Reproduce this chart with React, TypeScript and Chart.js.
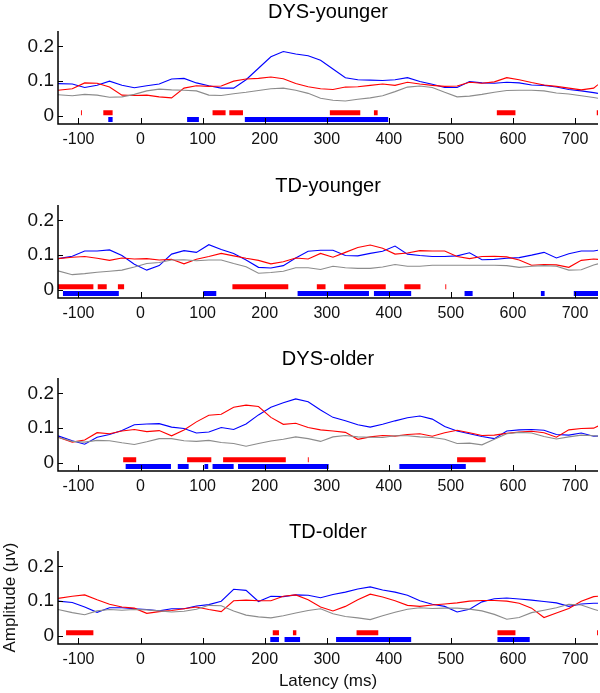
import React, { useEffect, useRef } from 'react';
import { Chart, registerables } from 'chart.js';

Chart.register(...registerables);

// ---------- data ----------
const latency = [-133, -110, -90, -70, -50, -30, -10, 10, 30, 50, 70, 90, 110, 130, 150, 170, 190, 210, 230, 250, 270, 290, 310, 330, 350, 370, 390, 410, 430, 450, 470, 490, 510, 530, 550, 570, 590, 610, 630, 650, 670, 690, 710, 730, 737];

const xTicks = [-100, 0, 100, 200, 300, 400, 500, 600, 700];
const yTicks = [0, 0.1, 0.2];
const yTickLabels = ['0', '0.1', '0.2'];

const panelTitles = ['DYS-younger', 'TD-younger', 'DYS-older', 'TD-older'];

// DYS-younger
const dysYoungerRed = [0.074, 0.078, 0.095, 0.094, 0.083, 0.060, 0.059, 0.060, 0.055, 0.052, 0.080, 0.087, 0.085, 0.086, 0.100, 0.106, 0.108, 0.112, 0.107, 0.093, 0.084, 0.078, 0.076, 0.083, 0.084, 0.088, 0.092, 0.088, 0.097, 0.092, 0.088, 0.085, 0.086, 0.097, 0.094, 0.098, 0.110, 0.104, 0.096, 0.089, 0.085, 0.080, 0.075, 0.080, 0.090];
const dysYoungerBlue = [0.093, 0.092, 0.082, 0.088, 0.100, 0.088, 0.081, 0.087, 0.092, 0.106, 0.108, 0.095, 0.087, 0.080, 0.080, 0.104, 0.137, 0.170, 0.185, 0.178, 0.173, 0.160, 0.135, 0.110, 0.104, 0.103, 0.102, 0.104, 0.110, 0.099, 0.091, 0.082, 0.082, 0.099, 0.095, 0.094, 0.097, 0.095, 0.089, 0.088, 0.083, 0.076, 0.072, 0.067, 0.065];
const dysYoungerGray = [0.061, 0.058, 0.062, 0.060, 0.054, 0.055, 0.062, 0.072, 0.077, 0.075, 0.074, 0.072, 0.060, 0.059, 0.064, 0.068, 0.073, 0.078, 0.080, 0.074, 0.065, 0.051, 0.045, 0.043, 0.048, 0.052, 0.058, 0.070, 0.083, 0.086, 0.082, 0.068, 0.055, 0.057, 0.062, 0.068, 0.073, 0.074, 0.074, 0.072, 0.066, 0.063, 0.058, 0.053, 0.051];
const dysYoungerRedSig = [[-96, -94.5], [-60, -45], [116, 137], [143, 165], [305, 354], [376, 382], [574, 604], [735, 737]];
const dysYoungerBlueSig = [[-52, -45], [75, 94], [168, 399]];

// TD-younger
const tdYoungerRed = [0.090, 0.094, 0.096, 0.091, 0.085, 0.092, 0.089, 0.090, 0.086, 0.088, 0.075, 0.088, 0.096, 0.105, 0.098, 0.091, 0.085, 0.075, 0.081, 0.092, 0.089, 0.105, 0.094, 0.108, 0.122, 0.129, 0.120, 0.103, 0.106, 0.113, 0.112, 0.112, 0.096, 0.090, 0.096, 0.097, 0.095, 0.086, 0.071, 0.073, 0.072, 0.065, 0.085, 0.089, 0.088];
const tdYoungerBlue = [0.090, 0.097, 0.112, 0.112, 0.115, 0.099, 0.074, 0.057, 0.070, 0.103, 0.113, 0.108, 0.130, 0.116, 0.105, 0.086, 0.065, 0.063, 0.070, 0.092, 0.111, 0.114, 0.114, 0.099, 0.098, 0.105, 0.111, 0.126, 0.103, 0.099, 0.096, 0.096, 0.098, 0.107, 0.087, 0.088, 0.091, 0.093, 0.100, 0.108, 0.092, 0.104, 0.112, 0.112, 0.114];
const tdYoungerGray = [0.055, 0.044, 0.047, 0.051, 0.054, 0.057, 0.066, 0.076, 0.079, 0.086, 0.087, 0.084, 0.086, 0.086, 0.076, 0.067, 0.048, 0.050, 0.054, 0.064, 0.064, 0.059, 0.068, 0.064, 0.062, 0.062, 0.066, 0.073, 0.068, 0.068, 0.071, 0.071, 0.071, 0.071, 0.071, 0.071, 0.070, 0.065, 0.068, 0.070, 0.068, 0.057, 0.058, 0.072, 0.075];
const tdYoungerRedSig = [[-133, -76], [-69, -54.5], [-36.5, -26.5], [148, 238], [284, 298], [328, 395], [425, 451], [491, 492.5]];
const tdYoungerBlueSig = [[-125, -35], [101, 122], [253, 368], [376, 436], [522, 535], [645, 651], [698, 737]];

// DYS-older
const dysOlderRed = [0.074, 0.060, 0.066, 0.087, 0.084, 0.092, 0.096, 0.090, 0.093, 0.078, 0.095, 0.118, 0.137, 0.140, 0.160, 0.166, 0.162, 0.131, 0.111, 0.114, 0.102, 0.095, 0.092, 0.088, 0.068, 0.075, 0.079, 0.077, 0.082, 0.084, 0.077, 0.087, 0.094, 0.087, 0.079, 0.080, 0.085, 0.089, 0.091, 0.087, 0.074, 0.095, 0.099, 0.100, 0.106];
const dysOlderBlue = [0.078, 0.064, 0.054, 0.074, 0.082, 0.093, 0.110, 0.112, 0.113, 0.103, 0.099, 0.086, 0.089, 0.102, 0.096, 0.112, 0.138, 0.160, 0.173, 0.184, 0.176, 0.152, 0.131, 0.121, 0.110, 0.103, 0.111, 0.121, 0.130, 0.135, 0.126, 0.105, 0.092, 0.084, 0.076, 0.070, 0.092, 0.095, 0.096, 0.094, 0.082, 0.080, 0.086, 0.077, 0.077];
const dysOlderGray = [0.074, 0.062, 0.060, 0.065, 0.064, 0.058, 0.053, 0.061, 0.070, 0.070, 0.064, 0.062, 0.065, 0.059, 0.056, 0.048, 0.056, 0.063, 0.068, 0.075, 0.070, 0.062, 0.075, 0.079, 0.075, 0.074, 0.073, 0.078, 0.078, 0.075, 0.073, 0.068, 0.056, 0.057, 0.052, 0.068, 0.084, 0.088, 0.086, 0.076, 0.069, 0.075, 0.080, 0.078, 0.077];
const dysOlderRedSig = [[-28, -7], [75, 114], [133, 234], [269.5, 271], [510, 556]];
const dysOlderBlueSig = [[-24, 49], [60, 77.5], [103, 109], [116, 150], [157, 303], [417, 524]];

// TD-older
const tdOlderRed = [0.108, 0.114, 0.118, 0.104, 0.091, 0.083, 0.080, 0.065, 0.070, 0.073, 0.078, 0.083, 0.076, 0.070, 0.101, 0.103, 0.101, 0.101, 0.114, 0.118, 0.104, 0.083, 0.072, 0.085, 0.104, 0.120, 0.112, 0.101, 0.088, 0.085, 0.089, 0.092, 0.095, 0.100, 0.102, 0.102, 0.100, 0.094, 0.080, 0.053, 0.066, 0.079, 0.100, 0.113, 0.114];
const tdOlderBlue = [0.100, 0.096, 0.083, 0.068, 0.081, 0.081, 0.078, 0.076, 0.072, 0.078, 0.078, 0.086, 0.090, 0.100, 0.134, 0.131, 0.099, 0.114, 0.113, 0.118, 0.117, 0.110, 0.119, 0.126, 0.135, 0.141, 0.132, 0.126, 0.117, 0.101, 0.091, 0.085, 0.069, 0.077, 0.098, 0.107, 0.109, 0.106, 0.103, 0.099, 0.095, 0.085, 0.092, 0.094, 0.094];
const tdOlderGray = [0.076, 0.067, 0.061, 0.072, 0.076, 0.074, 0.076, 0.075, 0.072, 0.069, 0.071, 0.077, 0.088, 0.087, 0.072, 0.060, 0.055, 0.052, 0.058, 0.066, 0.073, 0.078, 0.064, 0.056, 0.052, 0.047, 0.058, 0.068, 0.077, 0.081, 0.079, 0.080, 0.080, 0.077, 0.072, 0.062, 0.048, 0.053, 0.067, 0.074, 0.081, 0.091, 0.089, 0.077, 0.073];
const tdOlderRedSig = [[-120, -76], [213, 223], [245.5, 251], [348, 383], [575, 604], [735.5, 737]];
const tdOlderBlueSig = [[209, 223], [232, 257], [315, 436], [575, 627]];

const redLevel = 0.009;
const blueLevel = -0.01;

// ---------- layout ----------
const FONT = "'Liberation Sans', Arial, Helvetica, sans-serif";
const CANVAS_TOPS = [0, 174, 347, 520];
const CANVAS_HEIGHTS = [174, 173, 173, 173];
const AREA_TOP = 31;
const AREA_BOTTOM = 124;
const WIDTH = 600;

const RED = '#ff0000';
const BLUE = '#0000ff';
const GRAY = '#8c8c8c';

const panels = [
  { red: dysYoungerRed, blue: dysYoungerBlue, gray: dysYoungerGray, redSig: dysYoungerRedSig, blueSig: dysYoungerBlueSig },
  { red: tdYoungerRed, blue: tdYoungerBlue, gray: tdYoungerGray, redSig: tdYoungerRedSig, blueSig: tdYoungerBlueSig },
  { red: dysOlderRed, blue: dysOlderBlue, gray: dysOlderGray, redSig: dysOlderRedSig, blueSig: dysOlderBlueSig },
  { red: tdOlderRed, blue: tdOlderBlue, gray: tdOlderGray, redSig: tdOlderRedSig, blueSig: tdOlderBlueSig },
];

const series = (vals: number[]) => latency.map((x, i) => ({ x, y: vals[i] }));
const sigSegments = (ranges: number[][], level: number) =>
  ranges.flatMap(([a, b]) => [
    { x: a, y: level },
    { x: b, y: level },
    { x: b, y: null as any },
  ]);

const matlabAxes = {
  id: 'matlabAxes',
  afterDatasetsDraw(chart: any) {
    const { ctx, chartArea } = chart;
    const { left, right, top, bottom } = chartArea;
    const xs = chart.scales.x;
    const ys = chart.scales.y;
    ctx.save();
    ctx.strokeStyle = '#000';
    ctx.lineWidth = 1.5;
    ctx.beginPath();
    ctx.moveTo(left, top);
    ctx.lineTo(left, bottom);
    ctx.lineTo(right, bottom);
    ctx.stroke();
    ctx.lineWidth = 1;
    ctx.beginPath();
    xTicks.forEach((v) => {
      const px = Math.round(xs.getPixelForValue(v)) + 0.5;
      ctx.moveTo(px, bottom);
      ctx.lineTo(px, bottom - 6);
    });
    yTicks.forEach((v) => {
      const py = Math.round(ys.getPixelForValue(v)) + 0.5;
      ctx.moveTo(left, py);
      ctx.lineTo(left + 5, py);
    });
    ctx.stroke();
    ctx.restore();
  },
};

export default function App() {
  const refs = [useRef<HTMLCanvasElement>(null), useRef<HTMLCanvasElement>(null), useRef<HTMLCanvasElement>(null), useRef<HTMLCanvasElement>(null)];

  useEffect(() => {
    const charts: Chart[] = [];
    panels.forEach((p, idx) => {
      const canvas = refs[idx].current;
      if (!canvas) return;
      const h = CANVAS_HEIGHTS[idx];
      const isLast = idx === panels.length - 1;
      const lineDs = (vals: number[], color: string) => ({
        data: series(vals),
        borderColor: color,
        backgroundColor: color,
        borderWidth: 1.1,
        pointRadius: 0,
        tension: 0,
        fill: false,
      });
      const sigDs = (ranges: number[][], level: number, color: string) => ({
        data: sigSegments(ranges, level),
        borderColor: color,
        backgroundColor: color,
        borderWidth: 5,
        borderCapStyle: 'butt',
        pointRadius: 0,
        spanGaps: false,
        fill: false,
      });
      const chart = new Chart(canvas, {
        type: 'line',
        data: {
          datasets: [
            lineDs(p.gray, GRAY),
            lineDs(p.red, RED),
            lineDs(p.blue, BLUE),
            sigDs(p.redSig, redLevel, RED),
            sigDs(p.blueSig, blueLevel, BLUE),
          ] as any,
        },
        options: {
          animation: false,
          responsive: false,
          maintainAspectRatio: false,
          devicePixelRatio: 1,
          events: [],
          layout: { autoPadding: false, padding: { left: 0, right: 2, top: 0, bottom: 0 } },
          plugins: {
            legend: { display: false },
            tooltip: { enabled: false },
            title: {
              display: true,
              text: panelTitles[idx],
              fullSize: false,
              color: '#000',
              font: { family: FONT, size: 20, weight: 'normal', lineHeight: 1 },
              padding: { top: 2, bottom: AREA_TOP - 22 },
            },
          },
          scales: {
            x: {
              type: 'linear',
              min: -133,
              max: 737,
              afterBuildTicks: (scale: any) => {
                scale.ticks = xTicks.map((v) => ({ value: v }));
              },
              afterFit: (scale: any) => {
                scale.height = h - AREA_BOTTOM;
              },
              grid: { display: false, drawTicks: false },
              border: { display: false },
              ticks: {
                autoSkip: false,
                maxRotation: 0,
                padding: 6,
                color: '#111',
                font: { family: FONT, size: 16 },
                callback: (v: any) => String(v),
              },
              title: {
                display: isLast,
                text: 'Latency (ms)',
                color: '#111',
                font: { family: FONT, size: 17 },
                padding: { top: 0, bottom: 1 },
              },
            },
            y: {
              type: 'linear',
              min: -0.023,
              max: 0.244,
              afterBuildTicks: (scale: any) => {
                scale.ticks = yTicks.map((v) => ({ value: v }));
              },
              afterFit: (scale: any) => {
                scale.width = 58;
              },
              grid: { display: false, drawTicks: false },
              border: { display: false },
              ticks: {
                autoSkip: false,
                padding: 4,
                color: '#111',
                font: { family: FONT, size: 19 },
                callback: (v: any) => {
                  const i = yTicks.findIndex((t) => Math.abs(t - Number(v)) < 1e-9);
                  return i >= 0 ? yTickLabels[i] : '';
                },
              },
              title: {
                display: isLast,
                text: 'Amplitude (\u03bcv)',
                color: '#111',
                font: { family: FONT, size: 17 },
                padding: { top: 0, bottom: 0 },
              },
            },
          },
        } as any,
        plugins: [matlabAxes],
      });
      charts.push(chart);
    });
    return () => charts.forEach((c) => c.destroy());
  }, []);

  return (
    <div style={{ position: 'absolute', left: 0, top: 0, width: WIDTH, height: 693, background: '#fff', overflow: 'hidden' }}>
      {panels.map((_, idx) => (
        <canvas
          key={idx}
          ref={refs[idx]}
          width={WIDTH}
          height={CANVAS_HEIGHTS[idx]}
          style={{ position: 'absolute', left: 0, top: CANVAS_TOPS[idx], width: WIDTH, height: CANVAS_HEIGHTS[idx], display: 'block' }}
        />
      ))}
    </div>
  );
}
